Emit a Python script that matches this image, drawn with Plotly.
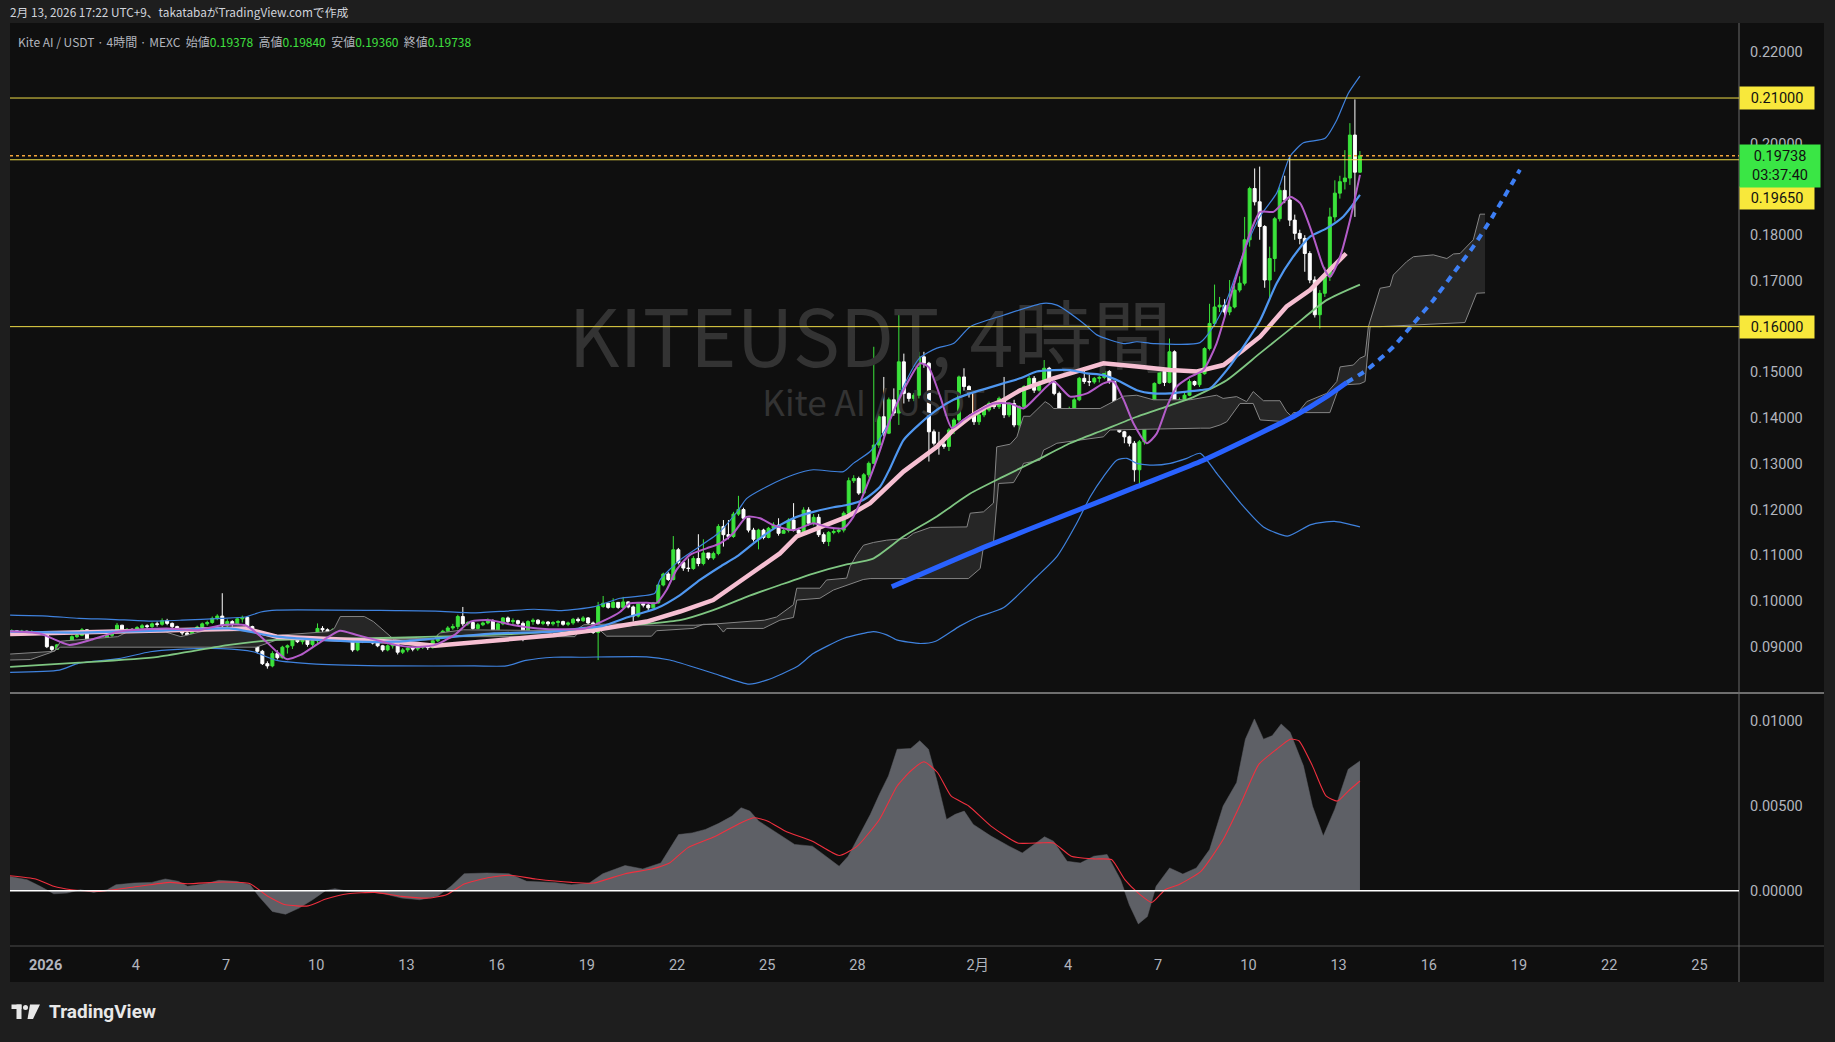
import pandas as pd
import plotly.graph_objects as go

# ---------------------------------------------------------------- data
FIRST_BAR = pd.Timestamp("2025-12-30 21:00")   # JST, 4h bars
BASE = pd.Timestamp("2026-01-01 00:00")        # indicator times are "days since BASE"
FIRST_OPEN = 0.0933

close_by_day = [
    [0.0935],
    [0.0931, 0.0934, 0.0930, 0.0933, 0.0931, 0.0929],
    [0.0900, 0.0894, 0.0904, 0.0908, 0.0912, 0.0922],
    [0.0925, 0.0937, 0.0911, 0.0905, 0.0911, 0.0916],
    [0.0925, 0.0935, 0.0947, 0.0933, 0.0938, 0.0935],
    [0.0942, 0.0946, 0.0944, 0.0950, 0.0949, 0.0957],
    [0.0951, 0.0944, 0.0938, 0.0930, 0.0921, 0.0935],
    [0.0943, 0.0950, 0.0953, 0.0962, 0.0967, 0.0946],
    [0.0955, 0.0950, 0.0961, 0.0964, 0.0944, 0.0907],
    [0.0890, 0.0863, 0.0858, 0.0885, 0.0876, 0.0899],
    [0.0902, 0.0918, 0.0911, 0.0915, 0.0905, 0.0913],
    [0.0940, 0.0937, 0.0931, 0.0937, 0.0930, 0.0919],
    [0.0915, 0.0893, 0.0918, 0.0911, 0.0936, 0.0908],
    [0.0902, 0.0893, 0.0902, 0.0905, 0.0888, 0.0893],
    [0.0897, 0.0895, 0.0899, 0.0902, 0.0898, 0.0913],
    [0.0923, 0.0934, 0.0941, 0.0944, 0.0966, 0.0950],
    [0.0953, 0.0940, 0.0948, 0.0952, 0.0957, 0.0937],
    [0.0950, 0.0963, 0.0955, 0.0957, 0.0951, 0.0920],
    [0.0955, 0.0958, 0.0951, 0.0954, 0.0950, 0.0953],
    [0.0955, 0.0949, 0.0952, 0.0960, 0.0957, 0.0963],
    [0.0952, 0.0931, 0.0988, 0.0995, 0.0986, 0.0997],
    [0.0986, 0.0998, 0.0987, 0.0967, 0.0994, 0.0991],
    [0.0985, 0.0996, 0.1035, 0.1059, 0.1047, 0.1112],
    [0.1084, 0.1072, 0.1071, 0.1093, 0.1082, 0.1105],
    [0.1094, 0.1104, 0.1163, 0.1145, 0.1141, 0.1190],
    [0.1200, 0.1181, 0.1155, 0.1135, 0.1155, 0.1139],
    [0.1159, 0.1166, 0.1148, 0.1154, 0.1177, 0.1155],
    [0.1148, 0.1199, 0.1170, 0.1183, 0.1145, 0.1130],
    [0.1150, 0.1152, 0.1155, 0.1192, 0.1263, 0.1268],
    [0.1236, 0.1276, 0.1301, 0.1341, 0.1403, 0.1367],
    [0.1440, 0.1411, 0.1523, 0.1454, 0.1443, 0.1450],
    [0.1534, 0.1520, 0.1370, 0.1345, 0.1343, 0.1338],
    [0.1374, 0.1396, 0.1490, 0.1469, 0.1454, 0.1392],
    [0.1407, 0.1418, 0.1432, 0.1425, 0.1443, 0.1407],
    [0.1432, 0.1385, 0.1425, 0.1469, 0.1487, 0.1461],
    [0.1478, 0.1509, 0.1480, 0.1454, 0.1385, 0.1418],
    [0.1420, 0.1440, 0.1487, 0.1480, 0.1479, 0.1487],
    [0.1489, 0.1502, 0.1480, 0.1421, 0.1370, 0.1359],
    [0.1345, 0.1287, 0.1348, 0.1392, 0.1432, 0.1476],
    [0.1505, 0.1478, 0.1545, 0.1430, 0.1440, 0.1450],
    [0.1480, 0.1473, 0.1497, 0.1552, 0.1607, 0.1643],
    [0.1647, 0.1632, 0.1643, 0.1680, 0.1695, 0.1790],
    [0.1902, 0.1873, 0.1819, 0.1702, 0.1749, 0.1836],
    [0.1898, 0.1877, 0.1833, 0.1804, 0.1793, 0.1760],
    [0.1702, 0.1626, 0.1673, 0.1709, 0.1840, 0.1892],
    [0.1917, 0.1925, 0.2019, 0.19378, 0.19738],
]
high_by_day = [
    [0.0938],
    [0.0936, 0.0937, 0.0935, 0.0936, 0.0934, 0.0933],
    [0.0931, 0.0902, 0.0906, 0.0911, 0.0914, 0.0925],
    [0.0928, 0.0941, 0.0938, 0.0912, 0.0914, 0.0919],
    [0.0927, 0.0938, 0.0952, 0.0948, 0.0941, 0.0940],
    [0.0945, 0.0950, 0.0949, 0.0953, 0.0955, 0.0962],
    [0.0961, 0.0953, 0.0946, 0.0939, 0.0932, 0.0937],
    [0.0946, 0.0953, 0.0957, 0.0966, 0.0971, 0.1017],
    [0.0960, 0.0958, 0.0965, 0.0968, 0.0967, 0.0946],
    [0.0910, 0.0893, 0.0868, 0.0890, 0.0892, 0.0902],
    [0.0905, 0.0922, 0.0920, 0.0919, 0.0917, 0.0916],
    [0.0951, 0.0945, 0.0940, 0.0940, 0.0938, 0.0932],
    [0.0922, 0.0917, 0.0921, 0.0919, 0.0940, 0.0940],
    [0.0912, 0.0904, 0.0905, 0.0910, 0.0908, 0.0897],
    [0.0900, 0.0900, 0.0901, 0.0905, 0.0904, 0.0916],
    [0.0927, 0.0937, 0.0945, 0.0950, 0.0970, 0.0987],
    [0.0956, 0.0956, 0.0952, 0.0955, 0.0962, 0.0960],
    [0.0953, 0.0965, 0.0966, 0.0962, 0.0959, 0.0955],
    [0.0958, 0.0962, 0.0960, 0.0957, 0.0956, 0.0956],
    [0.0958, 0.0957, 0.0955, 0.0963, 0.0964, 0.0967],
    [0.0965, 0.0955, 0.0998, 0.1011, 0.0996, 0.1006],
    [0.0997, 0.1009, 0.0999, 0.0990, 0.0996, 0.0996],
    [0.0994, 0.0998, 0.1038, 0.1062, 0.1063, 0.1142],
    [0.1116, 0.1086, 0.1093, 0.1098, 0.1146, 0.1135],
    [0.1105, 0.1108, 0.1168, 0.1177, 0.1177, 0.1195],
    [0.1230, 0.1204, 0.1178, 0.1160, 0.1158, 0.1158],
    [0.1162, 0.1172, 0.1181, 0.1158, 0.1181, 0.1214],
    [0.1160, 0.1205, 0.1205, 0.1190, 0.1190, 0.1150],
    [0.1153, 0.1158, 0.1160, 0.1196, 0.1270, 0.1275],
    [0.1272, 0.1280, 0.1305, 0.1556, 0.1410, 0.1490],
    [0.1445, 0.1465, 0.1628, 0.1541, 0.1456, 0.1455],
    [0.1545, 0.1545, 0.1523, 0.1375, 0.1370, 0.1352],
    [0.1378, 0.1400, 0.1493, 0.1509, 0.1472, 0.1456],
    [0.1410, 0.1422, 0.1436, 0.1435, 0.1447, 0.1490],
    [0.1435, 0.1440, 0.1428, 0.1472, 0.1492, 0.1492],
    [0.1482, 0.1527, 0.1512, 0.1482, 0.1458, 0.1422],
    [0.1425, 0.1445, 0.1490, 0.1510, 0.1495, 0.1490],
    [0.1492, 0.1523, 0.1505, 0.1482, 0.1425, 0.1372],
    [0.1362, 0.1350, 0.1352, 0.1395, 0.1436, 0.1478],
    [0.1508, 0.1510, 0.1574, 0.1548, 0.1445, 0.1456],
    [0.1485, 0.1482, 0.1500, 0.1555, 0.1650, 0.1692],
    [0.1665, 0.1660, 0.1702, 0.1690, 0.1710, 0.1840],
    [0.1906, 0.1946, 0.1950, 0.1822, 0.1775, 0.1840],
    [0.1905, 0.1930, 0.1972, 0.1845, 0.1812, 0.1800],
    [0.1765, 0.1710, 0.1680, 0.1730, 0.1860, 0.1920],
    [0.1930, 0.1986, 0.2045, 0.2097, 0.19840],
]
low_by_day = [
    [0.0931],
    [0.0929, 0.0929, 0.0928, 0.0929, 0.0928, 0.0926],
    [0.0897, 0.0889, 0.0893, 0.0902, 0.0906, 0.0910],
    [0.0919, 0.0923, 0.0908, 0.0900, 0.0903, 0.0909],
    [0.0914, 0.0921, 0.0933, 0.0930, 0.0930, 0.0932],
    [0.0933, 0.0939, 0.0940, 0.0941, 0.0944, 0.0946],
    [0.0947, 0.0940, 0.0933, 0.0925, 0.0917, 0.0920],
    [0.0932, 0.0940, 0.0946, 0.0950, 0.0958, 0.0922],
    [0.0942, 0.0944, 0.0947, 0.0953, 0.0940, 0.0902],
    [0.0885, 0.0860, 0.0852, 0.0855, 0.0872, 0.0874],
    [0.0885, 0.0895, 0.0908, 0.0905, 0.0900, 0.0898],
    [0.0908, 0.0932, 0.0928, 0.0927, 0.0926, 0.0914],
    [0.0911, 0.0889, 0.0890, 0.0908, 0.0908, 0.0905],
    [0.0899, 0.0889, 0.0890, 0.0896, 0.0883, 0.0884],
    [0.0888, 0.0890, 0.0891, 0.0895, 0.0893, 0.0896],
    [0.0910, 0.0918, 0.0928, 0.0937, 0.0938, 0.0945],
    [0.0946, 0.0937, 0.0938, 0.0945, 0.0949, 0.0933],
    [0.0935, 0.0947, 0.0950, 0.0947, 0.0947, 0.0912],
    [0.0917, 0.0948, 0.0948, 0.0947, 0.0945, 0.0946],
    [0.0944, 0.0946, 0.0945, 0.0948, 0.0953, 0.0954],
    [0.0948, 0.0928, 0.0871, 0.0985, 0.0983, 0.0984],
    [0.0983, 0.0984, 0.0984, 0.0955, 0.0964, 0.0986],
    [0.0980, 0.0984, 0.0994, 0.1032, 0.1044, 0.1045],
    [0.1080, 0.1066, 0.1064, 0.1068, 0.1076, 0.1078],
    [0.1090, 0.1090, 0.1100, 0.1119, 0.1135, 0.1138],
    [0.1186, 0.1175, 0.1150, 0.1130, 0.1113, 0.1135],
    [0.1137, 0.1155, 0.1143, 0.1148, 0.1150, 0.1152],
    [0.1144, 0.1144, 0.1165, 0.1165, 0.1140, 0.1125],
    [0.1120, 0.1146, 0.1148, 0.1150, 0.1188, 0.1258],
    [0.1232, 0.1235, 0.1270, 0.1300, 0.1335, 0.1360],
    [0.1365, 0.1405, 0.1385, 0.1432, 0.1436, 0.1437],
    [0.1443, 0.1510, 0.1305, 0.1340, 0.1320, 0.1333],
    [0.1328, 0.1365, 0.1390, 0.1460, 0.1445, 0.1385],
    [0.1385, 0.1402, 0.1414, 0.1420, 0.1420, 0.1400],
    [0.1402, 0.1380, 0.1337, 0.1420, 0.1465, 0.1455],
    [0.1458, 0.1475, 0.1476, 0.1450, 0.1380, 0.1382],
    [0.1408, 0.1415, 0.1437, 0.1475, 0.1470, 0.1475],
    [0.1478, 0.1485, 0.1475, 0.1418, 0.1368, 0.1345],
    [0.1338, 0.1261, 0.1250, 0.1342, 0.1385, 0.1425],
    [0.1474, 0.1470, 0.1476, 0.1425, 0.1427, 0.1437],
    [0.1448, 0.1470, 0.1468, 0.1495, 0.1548, 0.1600],
    [0.1632, 0.1620, 0.1625, 0.1640, 0.1675, 0.1690],
    [0.1775, 0.1865, 0.1790, 0.1685, 0.1660, 0.1720],
    [0.1830, 0.1870, 0.1820, 0.1790, 0.1780, 0.1720],
    [0.1695, 0.1620, 0.1596, 0.1665, 0.1700, 0.1830],
    [0.1880, 0.1900, 0.1910, 0.1840, 0.19360],
]

# Bollinger upper / lower (days since Jan 1, value)
ub_day = [-1.18, 0.06, 1.11, 2.17, 3.48, 4.53, 5.85, 6.64, 7.16, 7.69, 11.63, 12.96, 14.26, 15.32, 16.24, 17.16,
          18.21, 19.1, 20.26, 20.43, 21.1, 22.37, 23.04, 23.31, 23.98, 24.87, 25.53, 26.53, 26.86, 27.42, 27.75,
          28.08, 28.53, 29.06, 29.64, 30.19, 30.75, 31.85, 33.18, 33.63, 34.52, 34.96, 35.85, 36.29, 36.84, 38.39,
          38.83, 39.28, 39.83, 40.39, 40.94, 41.38, 41.83, 42.55, 42.94, 43.32, 43.71]
ub_val = [0.0969, 0.0967, 0.0962, 0.0960, 0.0956, 0.0958, 0.0962, 0.0965, 0.0976, 0.0980, 0.0979, 0.0978, 0.0974,
          0.0978, 0.0982, 0.0979, 0.0987, 0.1006, 0.1017, 0.1046, 0.1090, 0.1148, 0.1199, 0.1224, 0.1250, 0.1276,
          0.1287, 0.1283, 0.1301, 0.1327, 0.1356, 0.1396, 0.1469, 0.1531, 0.1553, 0.1563, 0.1600, 0.1625, 0.1651,
          0.1647, 0.1607, 0.1582, 0.1563, 0.1567, 0.1563, 0.1565, 0.1600, 0.1658, 0.1760, 0.1841, 0.1892, 0.1972,
          0.2002, 0.2012, 0.2052, 0.2110, 0.2148]
lb_day = [-1.18, 0.46, 1.11, 2.43, 3.48, 4.40, 5.85, 6.90, 7.69, 9.0, 11.63, 14.26, 15.32, 15.97, 16.9, 17.77,
          19.99, 20.76, 22.2, 23.4, 23.98, 24.98, 25.53, 26.53, 27.19, 27.53, 27.97, 28.3, 29.1, 29.6, 30.4, 31.0,
          31.85, 32.96, 33.63, 34.29, 34.74, 35.18, 35.62, 35.96, 36.29, 36.84, 37.4, 37.95, 38.4, 38.96, 39.74,
          40.5, 41.3, 42.08, 42.86, 43.71]
lb_val = [0.0844, 0.0849, 0.0864, 0.0874, 0.0889, 0.0894, 0.0896, 0.0889, 0.0870, 0.0862, 0.0858, 0.0858, 0.0858,
          0.0870, 0.0877, 0.0877, 0.0878, 0.0871, 0.0842, 0.0818, 0.0827, 0.0856, 0.0885, 0.0918, 0.0929, 0.0933,
          0.0926, 0.0915, 0.0907, 0.0912, 0.0945, 0.0965, 0.0985, 0.1053, 0.1097, 0.1170, 0.1228, 0.1272, 0.1308,
          0.1312, 0.1301, 0.1297, 0.1301, 0.1312, 0.1323, 0.1278, 0.1214, 0.1162, 0.1142, 0.1167, 0.1174, 0.1162]

# medium blue moving average
mb_day = [-1.18, 1.11, 3.74, 6.11, 7.69, 10.32, 11.63, 12.95, 14.92, 16.89, 17.77, 18.5, 19.43, 20.32, 21.1, 21.76,
          22.43, 22.98, 23.54, 23.98, 24.42, 24.98, 25.53, 26.2, 26.64, 27.19, 27.75, 28.08, 28.53, 29.08, 29.64,
          30.19, 30.75, 31.3, 31.85, 32.41, 32.96, 33.52, 34.07, 34.63, 35.18, 35.73, 36.29, 36.84, 37.4, 37.95,
          38.4, 38.72, 39.28, 39.83, 40.39, 40.94, 41.49, 42.05, 42.6, 43.16, 43.71]
mb_val = [0.0933, 0.0931, 0.0935, 0.0940, 0.0922, 0.0911, 0.0911, 0.0918, 0.0929, 0.0933, 0.0940, 0.0945, 0.0966,
          0.0984, 0.1013, 0.1046, 0.1075, 0.1097, 0.1126, 0.1148, 0.1166, 0.1184, 0.1195, 0.1205, 0.1210, 0.1221,
          0.1250, 0.1290, 0.1352, 0.1388, 0.1418, 0.1440, 0.1454, 0.1465, 0.1476, 0.1487, 0.1502, 0.1505, 0.1505,
          0.1498, 0.1494, 0.1480, 0.1461, 0.1454, 0.1454, 0.1458, 0.1461, 0.1465, 0.1505, 0.1556, 0.1614, 0.1695,
          0.1753, 0.1797, 0.1815, 0.1841, 0.1888]

# pink (higher-timeframe) moving average
pk_day = [-1.18, 2.43, 5.32, 6.64, 7.69, 9.27, 11.63, 12.95, 15.58, 16.89, 18.21, 19.99, 21.1, 22.2, 23.31, 24.42,
          24.98, 25.53, 26.64, 27.42, 28.53, 29.64, 30.19, 30.75, 31.3, 31.85, 32.41, 33.52, 35.18, 36.29, 37.4,
          38.29, 39.17, 39.83, 40.39, 41.27, 42.05, 42.6, 43.25]
pk_val = [0.0928, 0.0934, 0.0940, 0.0940, 0.0922, 0.0918, 0.0911, 0.0902, 0.0916, 0.0925, 0.0936, 0.0955, 0.0977,
          0.1002, 0.1053, 0.1104, 0.1141, 0.1155, 0.1184, 0.1214, 0.1283, 0.1337, 0.1374, 0.1403, 0.1425, 0.1439,
          0.1461, 0.1487, 0.1520, 0.1513, 0.1505, 0.1502, 0.1516, 0.1549, 0.1578, 0.1644, 0.1680, 0.1717, 0.1760]

# green slow moving average
gr_day = [-1.18, 1.11, 3.74, 6.11, 7.69, 10.32, 12.95, 15.58, 17.77, 19.99, 21.1, 22.2, 23.31, 24.42, 25.53, 26.64,
          27.5, 28.53, 29.64, 30.75, 31.85, 32.96, 34.07, 35.18, 36.29, 37.4, 38.17, 39.28, 40.39, 41.49, 42.6,
          43.71]
gr_val = [0.0856, 0.0865, 0.0878, 0.0904, 0.0915, 0.0918, 0.0922, 0.0928, 0.0938, 0.0950, 0.0958, 0.0980, 0.1009,
          0.1035, 0.1060, 0.1080, 0.1092, 0.1141, 0.1185, 0.1235, 0.1272, 0.1308, 0.1345, 0.1374, 0.1403, 0.1428,
          0.1446, 0.1483, 0.1542, 0.1600, 0.1658, 0.1692]

# purple fast moving average
pu_day = [-1.18, -0.2, 0.79, 1.51, 2.43, 4.01, 5.06, 5.85, 6.64, 7.16, 7.69, 8.02, 8.48, 9.0, 9.79, 10.32, 10.98,
          11.63, 12.29, 12.95, 13.6, 14.13, 14.79, 15.58, 16.37, 17.16, 17.95, 18.6, 19.1, 19.43, 19.99, 20.32,
          20.65, 20.98, 21.43, 21.98, 22.43, 22.87, 23.31, 23.76, 24.2, 24.87, 25.53, 25.97, 26.53, 26.86, 27.3,
          27.75, 28.08, 28.53, 29.08, 29.36, 29.75, 30.14, 30.52, 30.97, 31.52, 32.08, 32.52, 32.96, 33.52, 34.07,
          34.63, 35.18, 35.51, 35.85, 36.18, 36.62, 36.95, 37.29, 37.62, 38.06, 38.5, 38.94, 39.5, 40.05, 40.39,
          40.83, 41.38, 41.72, 42.16, 42.49, 42.71, 43.05, 43.38, 43.71]
pu_val = [0.0934, 0.0929, 0.0904, 0.0915, 0.0933, 0.0940, 0.0936, 0.0947, 0.0947, 0.0922, 0.0889, 0.0873, 0.0882,
          0.0904, 0.0935, 0.0926, 0.0915, 0.0904, 0.0899, 0.0904, 0.0926, 0.0955, 0.0958, 0.0947, 0.0940, 0.0938,
          0.0940, 0.0958, 0.0976, 0.0995, 0.0996, 0.0996, 0.1024, 0.1068, 0.1101, 0.1115, 0.1126, 0.1148, 0.1184,
          0.1181, 0.1166, 0.1155, 0.1170, 0.1162, 0.1159, 0.1184, 0.1250, 0.1330, 0.1396, 0.1461, 0.1520, 0.1512,
          0.1447, 0.1378, 0.1396, 0.1414, 0.1432, 0.1432, 0.1421, 0.1447, 0.1480, 0.1447, 0.1454, 0.1476, 0.1480,
          0.1440, 0.1388, 0.1345, 0.1366, 0.1425, 0.1469, 0.1490, 0.1505, 0.1563, 0.1687, 0.1804, 0.1851, 0.1851,
          0.1884, 0.1870, 0.1797, 0.1731, 0.1709, 0.1753, 0.1833, 0.1932]

# Ichimoku cloud spans
ca_day = [-1.18, 0.3, 0.5, 2.4, 2.7, 4.0, 4.5, 5.3, 7.0, 7.7, 9.4, 9.6, 9.8, 10.6, 10.9, 11.3, 11.6, 12.9, 13.1,
          13.9, 17.6, 17.9, 19.0, 20.0, 21.6, 22.3, 23.9, 24.31, 24.64, 24.87, 24.98, 25.75, 25.97, 26.64, 26.75,
          26.97, 27.2, 27.53, 27.97, 28.64, 28.86, 29.42, 30.64, 30.75, 31.19, 31.52, 31.63, 32.08, 32.3, 32.52,
          32.74, 33.07, 33.24, 33.41, 33.52, 35.07, 35.4, 35.85, 36.29, 36.62, 36.84, 38.06, 38.94, 39.16, 39.61,
          39.94, 40.16, 40.5, 41.05, 41.27, 41.5, 41.94, 42.6, 42.94, 43.05, 43.49, 43.71, 43.88, 43.99, 44.38,
          44.71, 44.82, 45.26, 45.49, 46.15, 46.6, 46.82, 47.04, 47.48, 47.7, 47.87]
ca_val = [0.0884, 0.0890, 0.0912, 0.0922, 0.0932, 0.0932, 0.0922, 0.0935, 0.0935, 0.0925, 0.0933, 0.0940, 0.0966,
          0.0966, 0.0955, 0.0933, 0.0915, 0.0915, 0.0930, 0.0937, 0.0935, 0.0948, 0.0950, 0.0947, 0.0947, 0.0950,
          0.0958, 0.0965, 0.0981, 0.0992, 0.1028, 0.1028, 0.1046, 0.1050, 0.1075, 0.1101, 0.1122, 0.1128, 0.1133,
          0.1137, 0.1148, 0.1161, 0.1162, 0.1192, 0.1195, 0.1214, 0.1337, 0.1343, 0.1359, 0.1404, 0.1404, 0.1425,
          0.1436, 0.1429, 0.1421, 0.1421, 0.1432, 0.1448, 0.1450, 0.1443, 0.1440, 0.1440, 0.1450, 0.1443, 0.1447,
          0.1436, 0.1458, 0.1438, 0.1438, 0.1414, 0.1400, 0.1436, 0.1454, 0.1480, 0.1512, 0.1516, 0.1531, 0.1536,
          0.1600, 0.1684, 0.1688, 0.1713, 0.1742, 0.1753, 0.1757, 0.1749, 0.1759, 0.1760, 0.1790, 0.1846, 0.1846]
cb_day = [-1.18, -0.5, 0.2, 0.5, 7.0, 7.7, 9.4, 12.9, 13.2, 17.6, 17.8, 18.44, 18.66, 20.15, 20.32, 21.54, 21.87,
          22.32, 22.54, 22.65, 23.87, 24.42, 24.87, 24.98, 25.75, 26.2, 27.19, 27.42, 30.69, 31.08, 31.19, 31.52,
          31.69, 32.19, 32.41, 32.52, 33.07, 33.19, 33.41, 33.63, 35.18, 35.4, 38.4, 38.72, 39.06, 39.28, 39.72,
          40.16, 40.39, 41.27, 41.5, 42.71, 42.94, 43.05, 43.71, 43.88, 44.05, 44.38, 47.2, 47.59, 47.87]
cb_val = [0.0871, 0.0872, 0.0888, 0.0899, 0.0899, 0.0915, 0.0918, 0.0918, 0.0922, 0.0922, 0.0938, 0.0936, 0.0923,
          0.0923, 0.0935, 0.0940, 0.0949, 0.0949, 0.0932, 0.0940, 0.0940, 0.0958, 0.0964, 0.1002, 0.1006, 0.1024,
          0.1047, 0.1049, 0.1049, 0.1071, 0.1119, 0.1126, 0.1257, 0.1259, 0.1283, 0.1301, 0.1308, 0.1330, 0.1337,
          0.1345, 0.1359, 0.1374, 0.1378, 0.1378, 0.1385, 0.1392, 0.1432, 0.1432, 0.1396, 0.1392, 0.1412, 0.1412,
          0.1454, 0.1472, 0.1475, 0.1480, 0.1600, 0.1600, 0.1609, 0.1673, 0.1674]

# hand-drawn trend line and its dashed projection
trend_day = [28.14, 31.3, 34.07, 36.29, 38.4, 40.39, 41.49, 42.6, 43.27]
trend_val = [0.1031, 0.1120, 0.1192, 0.1250, 0.1305, 0.1367, 0.1403, 0.1447, 0.1478]
proj_day = [43.27, 43.93, 44.82, 45.49, 46.15, 46.82, 47.48, 48.15, 49.03]
proj_val = [0.1478, 0.1505, 0.1556, 0.1607, 0.1658, 0.1717, 0.1775, 0.1844, 0.1943]

# lower pane oscillator (area) and its signal line
osc_day = [-1.22, -0.62, -0.18, 0.27, 0.71, 1.16, 1.6, 2.05, 2.34, 2.94, 3.53, 3.98, 4.42, 4.72, 5.31, 5.76, 6.35,
           6.8, 7.09, 7.54, 7.98, 8.43, 8.88, 9.32, 9.62, 10.06, 10.66, 11.25, 11.84, 12.44, 13.03, 13.48, 13.92,
           14.67, 15.41, 16.0, 16.89, 17.49, 18.08, 18.53, 19.27, 19.86, 20.46, 20.75, 21.05, 21.5, 21.94, 22.39,
           22.83, 23.13, 23.42, 23.72, 24.32, 24.61, 24.91, 25.5, 25.95, 26.39, 26.69, 26.99, 27.43, 27.73, 28.03,
           28.32, 28.77, 29.07, 29.36, 29.66, 29.96, 30.25, 30.55, 30.85, 31.44, 32.04, 32.48, 33.22, 33.52, 33.97,
           34.41, 34.86, 35.3, 35.75, 36.04, 36.34, 36.64, 36.93, 37.38, 37.82, 38.27, 38.71, 39.16, 39.61, 39.9,
           40.2, 40.5, 40.79, 41.09, 41.39, 41.83, 42.13, 42.49, 42.87, 43.32, 43.71]
osc_val = [0.00085, 0.00065, 0.00026, -0.00018, -0.00014, 0.00006, -0.0001, 0.00006, 0.00035, 0.00045, 0.00049,
           0.00069, 0.00055, 0.00026, 0.00041, 0.00061, 0.00055, 0.00035, -0.00033, -0.00122, -0.00138, -0.00102,
           -0.00053, 0.00002, 0.00012, -0.00004, -0.00004, -0.00018, -0.00043, -0.00053, -0.00033, 0.00026, 0.001,
           0.00104, 0.001, 0.00055, 0.00049, 0.00035, 0.00045, 0.001, 0.00148, 0.00128, 0.00163, 0.00242, 0.0033,
           0.0034, 0.0036, 0.00396, 0.00439, 0.00488, 0.00468, 0.00409, 0.0034, 0.00311, 0.00272, 0.00262, 0.00203,
           0.00144, 0.00203, 0.00301, 0.00449, 0.00567, 0.00675, 0.00832, 0.00836, 0.00882, 0.00832, 0.00636,
           0.00419, 0.00449, 0.00468, 0.0039, 0.00321, 0.00262, 0.00222, 0.00317, 0.00291, 0.00173, 0.00163,
           0.00203, 0.00213, 0.00065, -0.00083, -0.00195, -0.00152, 0.00026, 0.00134, 0.00098, 0.00134, 0.00242,
           0.00498, 0.00636, 0.00891, 0.0101, 0.00891, 0.00911, 0.0098, 0.00931, 0.00734, 0.00498, 0.00321,
           0.00478, 0.00714, 0.00763]
sig_day = [-1.22, -0.33, 0.27, 0.86, 1.75, 2.94, 4.13, 4.72, 5.91, 6.8, 7.39, 7.98, 8.73, 9.32, 10.06, 10.95,
           11.84, 12.74, 13.33, 13.92, 14.67, 15.41, 16.3, 17.49, 18.23, 19.27, 20.16, 20.75, 21.35, 22.24, 23.13,
           23.57, 24.02, 24.61, 25.5, 26.39, 26.99, 27.73, 28.32, 28.77, 29.21, 29.66, 30.11, 30.7, 31.44, 32.33,
           33.07, 33.52, 34.11, 34.86, 35.45, 35.89, 36.34, 36.79, 37.23, 37.68, 38.42, 39.16, 39.76, 40.35, 40.94,
           41.39, 41.68, 42.13, 42.58, 42.96, 43.32, 43.71]
sig_val = [0.00089, 0.00069, 0.00026, 0.00006, -0.00004, 0.00022, 0.00049, 0.00041, 0.00051, 0.00041, -0.00033,
           -0.00083, -0.00089, -0.00049, -0.00018, -0.0001, -0.00033, -0.00043, -0.00024, 0.00039, 0.00075,
           0.00091, 0.00069, 0.00049, 0.00045, 0.001, 0.00128, 0.00163, 0.00252, 0.00317, 0.004, 0.00429, 0.00409,
           0.0035, 0.00291, 0.00207, 0.00262, 0.00419, 0.00616, 0.00704, 0.00758, 0.00695, 0.00557, 0.00498,
           0.0038, 0.00281, 0.00281, 0.00281, 0.00203, 0.00187, 0.00183, 0.00065, -0.00014, -0.00069, 0.00006,
           0.00035, 0.00114, 0.00301, 0.00518, 0.00744, 0.00832, 0.00891, 0.00882, 0.00734, 0.00557, 0.00527,
           0.00586, 0.00645]

# horizontal levels, axis ticks
levels = [0.21, 0.1965, 0.16]
last_price = 0.19738
countdown = "03:37:40"
price_ticks = [0.09, 0.10, 0.11, 0.12, 0.13, 0.14, 0.15, 0.16, 0.17, 0.18, 0.19, 0.20, 0.21, 0.22]
osc_ticks = [0.0, 0.005, 0.01]
date_ticks = ["2026-01-01", "2026-01-04", "2026-01-07", "2026-01-10", "2026-01-13", "2026-01-16", "2026-01-19",
              "2026-01-22", "2026-01-25", "2026-01-28", "2026-02-01", "2026-02-04", "2026-02-07", "2026-02-10",
              "2026-02-13", "2026-02-16", "2026-02-19", "2026-02-22", "2026-02-25"]
date_labels = ["<b>2026</b>", "4", "7", "10", "13", "16", "19", "22", "25", "28", "2月", "4", "7", "10", "13",
               "16", "19", "22", "25"]

# ---------------------------------------------------------------- build
closes = [v for d in close_by_day for v in d]
highs = [v for d in high_by_day for v in d]
lows = [v for d in low_by_day for v in d]
times = pd.date_range(FIRST_BAR, periods=len(closes), freq="4h")
opens = [FIRST_OPEN] + closes[:-1]
highs = [max(h, o, c) for h, o, c in zip(highs, opens, closes)]
lows = [min(l, o, c) for l, o, c in zip(lows, opens, closes)]


def T(days):
    return [BASE + pd.Timedelta(days=d) for d in days]


W, H = 1835, 1042
PL, PR, PT, PB = 10, 1739, 25, 946  # plot area in pixels
PW, PH = PR - PL, PB - PT


def px(x):
    return (x - PL) / PW


def py(y):
    return (PB - y) / PH


SEP_Y = 693
UP_DOM = [py(SEP_Y) + 0.001, 1.0]
LO_DOM = [0.0, py(SEP_Y) - 0.001]

X_RANGE = [pd.Timestamp("2025-12-30 19:35"), pd.Timestamp("2026-02-26 07:34")]
Y_RANGE = [0.08008, 0.22597]
Y2_RANGE = [-0.00325, 0.01157]

AXIS_FONT = dict(family="Roboto, 'Noto Sans CJK JP', sans-serif", size=14.5, color="#b2b5be")
JP = "'Noto Sans CJK JP', 'Noto Sans', sans-serif"
BOX_FONT = dict(family="Roboto, sans-serif", size=14.5, color="#111111")

fig = go.Figure()

# watermark (drawn first so everything else sits on top)
fig.add_trace(go.Scatter(x=[pd.Timestamp("2026-01-28 10:00")], y=[0.1554], mode="text",
                         text=["KITEUSDT, 4時間"], textposition="middle center",
                         textfont=dict(family=JP, size=79, color="#333333"),
                         hoverinfo="skip", showlegend=False, xaxis="x", yaxis="y"))
fig.add_trace(go.Scatter(x=[pd.Timestamp("2026-01-28 13:00")], y=[0.1423], mode="text",
                         text=["Kite AI / USDT"], textposition="middle center",
                         textfont=dict(family=JP, size=35, color="#333333"),
                         hoverinfo="skip", showlegend=False, xaxis="x", yaxis="y"))

# cloud
cx = T(ca_day) + T(cb_day)[::-1]
cy = ca_val + cb_val[::-1]
fig.add_trace(go.Scatter(x=cx, y=cy, mode="lines", fill="toself", fillcolor="#262626",
                         line=dict(width=0), hoverinfo="skip", showlegend=False))
for d, v in ((ca_day, ca_val), (cb_day, cb_val)):
    fig.add_trace(go.Scatter(x=T(d), y=v, mode="lines", line=dict(color="#858585", width=1),
                             hoverinfo="skip", showlegend=False))

# Bollinger
for d, v in ((ub_day, ub_val), (lb_day, lb_val)):
    fig.add_trace(go.Scatter(x=T(d), y=v, mode="lines",
                             line=dict(color="#3f82de", width=1.2, shape="spline", smoothing=0.6),
                             hoverinfo="skip", showlegend=False))

# candles
fig.add_trace(go.Candlestick(x=times, open=opens, high=highs, low=lows, close=closes,
                             increasing=dict(line=dict(color="#3be33b", width=1), fillcolor="#3be33b"),
                             decreasing=dict(line=dict(color="#ffffff", width=1), fillcolor="#ffffff"),
                             whiskerwidth=0, hoverinfo="skip", showlegend=False))

# moving averages
fig.add_trace(go.Scatter(x=T(gr_day), y=gr_val, mode="lines",
                         line=dict(color="#7fc682", width=1.8, shape="spline", smoothing=0.6),
                         hoverinfo="skip", showlegend=False))
fig.add_trace(go.Scatter(x=T(pk_day), y=pk_val, mode="lines",
                         line=dict(color="#f6bfd2", width=4.5), hoverinfo="skip", showlegend=False))
fig.add_trace(go.Scatter(x=T(mb_day), y=mb_val, mode="lines",
                         line=dict(color="#4f97f0", width=2.2, shape="spline", smoothing=0.6),
                         hoverinfo="skip", showlegend=False))
fig.add_trace(go.Scatter(x=T(pu_day), y=pu_val, mode="lines",
                         line=dict(color="#b45cc9", width=2, shape="spline", smoothing=0.6),
                         hoverinfo="skip", showlegend=False))

# trend line and projection
fig.add_trace(go.Scatter(x=T(trend_day), y=trend_val, mode="lines",
                         line=dict(color="#2962ff", width=5, shape="spline", smoothing=0.6),
                         hoverinfo="skip", showlegend=False))
fig.add_trace(go.Scatter(x=T(proj_day), y=proj_val, mode="lines",
                         line=dict(color="#3d7ff5", width=4, dash="7px,6px", shape="spline", smoothing=0.6),
                         hoverinfo="skip", showlegend=False))

# lower pane
fig.add_trace(go.Scatter(x=T(osc_day), y=osc_val, mode="lines", fill="tozeroy", fillcolor="#5e6066",
                         line=dict(color="#5e6066", width=0.5), hoverinfo="skip", showlegend=False,
                         xaxis="x2", yaxis="y2"))
fig.add_trace(go.Scatter(x=T(sig_day), y=sig_val, mode="lines",
                         line=dict(color="#f0303f", width=1.1, shape="spline", smoothing=0.5),
                         hoverinfo="skip", showlegend=False, xaxis="x2", yaxis="y2"))

# ---------------------------------------------------------------- shapes
shapes = [
    # chart background
    dict(type="rect", xref="paper", yref="paper", x0=px(PL), x1=px(1824), y0=py(982), y1=py(23),
         fillcolor="#0f0f0f", line=dict(width=0), layer="below"),
    # pane separator, axis border lines
    dict(type="line", xref="paper", yref="paper", x0=px(PL), x1=px(1824), y0=py(SEP_Y), y1=py(SEP_Y),
         line=dict(color="#cfcfcf", width=1)),
    dict(type="line", xref="paper", yref="paper", x0=px(PL), x1=px(1824), y0=py(PB), y1=py(PB),
         line=dict(color="#4c4c4c", width=1)),
    dict(type="line", xref="paper", yref="paper", x0=1, x1=1, y0=py(982), y1=py(23),
         line=dict(color="#6a6a6a", width=1)),
    # zero line in lower pane
    dict(type="line", xref="x2 domain", yref="y2", x0=0, x1=1, y0=0, y1=0,
         line=dict(color="#ffffff", width=1.5)),
    # current price dotted line
    dict(type="line", xref="x domain", yref="y", x0=0, x1=1, y0=last_price, y1=last_price,
         line=dict(color="#f2a33a", width=1.5, dash="dot")),
]
for lv in levels:
    shapes.append(dict(type="line", xref="x domain", yref="y", x0=0, x1=1, y0=lv, y1=lv,
                       line=dict(color="#eedb47", width=1)))

# TradingView logo icon
shapes += [
    dict(type="rect", xref="paper", yref="paper", x0=px(11.5), x1=px(21.5), y0=py(1009), y1=py(1004.5),
         fillcolor="#e8e8e8", line=dict(width=0)),
    dict(type="rect", xref="paper", yref="paper", x0=px(16.5), x1=px(21.5), y0=py(1019), y1=py(1004.5),
         fillcolor="#e8e8e8", line=dict(width=0)),
    dict(type="circle", xref="paper", yref="paper", x0=px(23), x1=px(28), y0=py(1010), y1=py(1005),
         fillcolor="#e8e8e8", line=dict(width=0)),
    dict(type="path", xref="paper", yref="paper",
         path=f"M {px(30)},{py(1004.5)} L {px(40)},{py(1004.5)} L {px(33)},{py(1019)} L {px(27.5)},{py(1019)} Z",
         fillcolor="#e8e8e8", line=dict(width=0)),
]

# ---------------------------------------------------------------- annotations
ann = []
ann.append(dict(xref="paper", yref="paper", x=px(8), y=py(12), xanchor="left", yanchor="middle",
                text="2月 13, 2026 17:22 UTC+9、takatabaがTradingView.comで作成", showarrow=False,
                font=dict(family=JP, size=11.8, color="#d1d4dc")))
G = "#3fe03f"
SP = "\u00a0\u00a0"
legend_txt = (f"Kite AI / USDT · 4時間 · MEXC{SP}"
              f"始値<span style='color:{G}'>0.19378</span>{SP}"
              f"高値<span style='color:{G}'>0.19840</span>{SP}"
              f"安値<span style='color:{G}'>0.19360</span>{SP}"
              f"終値<span style='color:{G}'>0.19738</span>")
ann.append(dict(xref="paper", yref="paper", x=px(16), y=py(41), xanchor="left", yanchor="middle",
                text=legend_txt, showarrow=False, font=dict(family=JP, size=12, color="#b2b5be")))
ann.append(dict(xref="paper", yref="paper", x=px(47), y=py(1011), xanchor="left", yanchor="middle",
                text="<b>TradingView</b>", showarrow=False,
                font=dict(family="Roboto, sans-serif", size=19, color="#e8e8e8")))

YEL = "#f8e83b"
for lv, shift in ((0.21, 0), (0.1965, -38), (0.16, 0)):
    ann.append(dict(xref="paper", yref="y", x=1.0, y=lv, xanchor="left", yanchor="middle", yshift=shift,
                    text=f"{lv:.5f}", showarrow=False, bgcolor=YEL, width=66, height=14, borderpad=4,
                    align="center", font=BOX_FONT))
ann.append(dict(xref="paper", yref="y", x=1.0, y=last_price, xanchor="left", yanchor="middle", yshift=-10,
                text=f"{last_price:.5f}<br>{countdown}", showarrow=False, bgcolor="#3ae645",
                width=72, height=34, borderpad=4, align="center", font=BOX_FONT))

fig.update_layout(
    width=W, height=H,
    margin=dict(l=PL, r=W - PR, t=PT, b=H - PB, pad=0),
    paper_bgcolor="#1e1e1e", plot_bgcolor="#0f0f0f",
    showlegend=False, hovermode=False, boxgap=0.15,
    shapes=shapes, annotations=ann,
    xaxis=dict(domain=[0, 1], range=X_RANGE, type="date", showticklabels=False, showgrid=False,
               zeroline=False, showline=False, rangeslider=dict(visible=False), anchor="y", matches="x2"),
    yaxis=dict(domain=UP_DOM, range=Y_RANGE, side="right", tickvals=price_ticks, tickformat=".5f",
               showgrid=False, zeroline=False, showline=False, ticks="", ticklabelstandoff=10,
               tickfont=AXIS_FONT, anchor="x"),
    xaxis2=dict(domain=[0, 1], range=X_RANGE, type="date", tickvals=date_ticks, ticktext=date_labels,
                showgrid=False, zeroline=False, showline=False, ticks="", ticklabelstandoff=8,
                tickfont=AXIS_FONT, anchor="y2"),
    yaxis2=dict(domain=LO_DOM, range=Y2_RANGE, side="right", tickvals=osc_ticks, tickformat=".5f",
                showgrid=False, zeroline=False, showline=False, ticks="", ticklabelstandoff=10,
                tickfont=AXIS_FONT, anchor="x2"),
)

fig.write_html("out.html", config={"displayModeBar": False, "staticPlot": True},
               post_script="document.body.style.margin='0';document.body.style.overflow='hidden';")
